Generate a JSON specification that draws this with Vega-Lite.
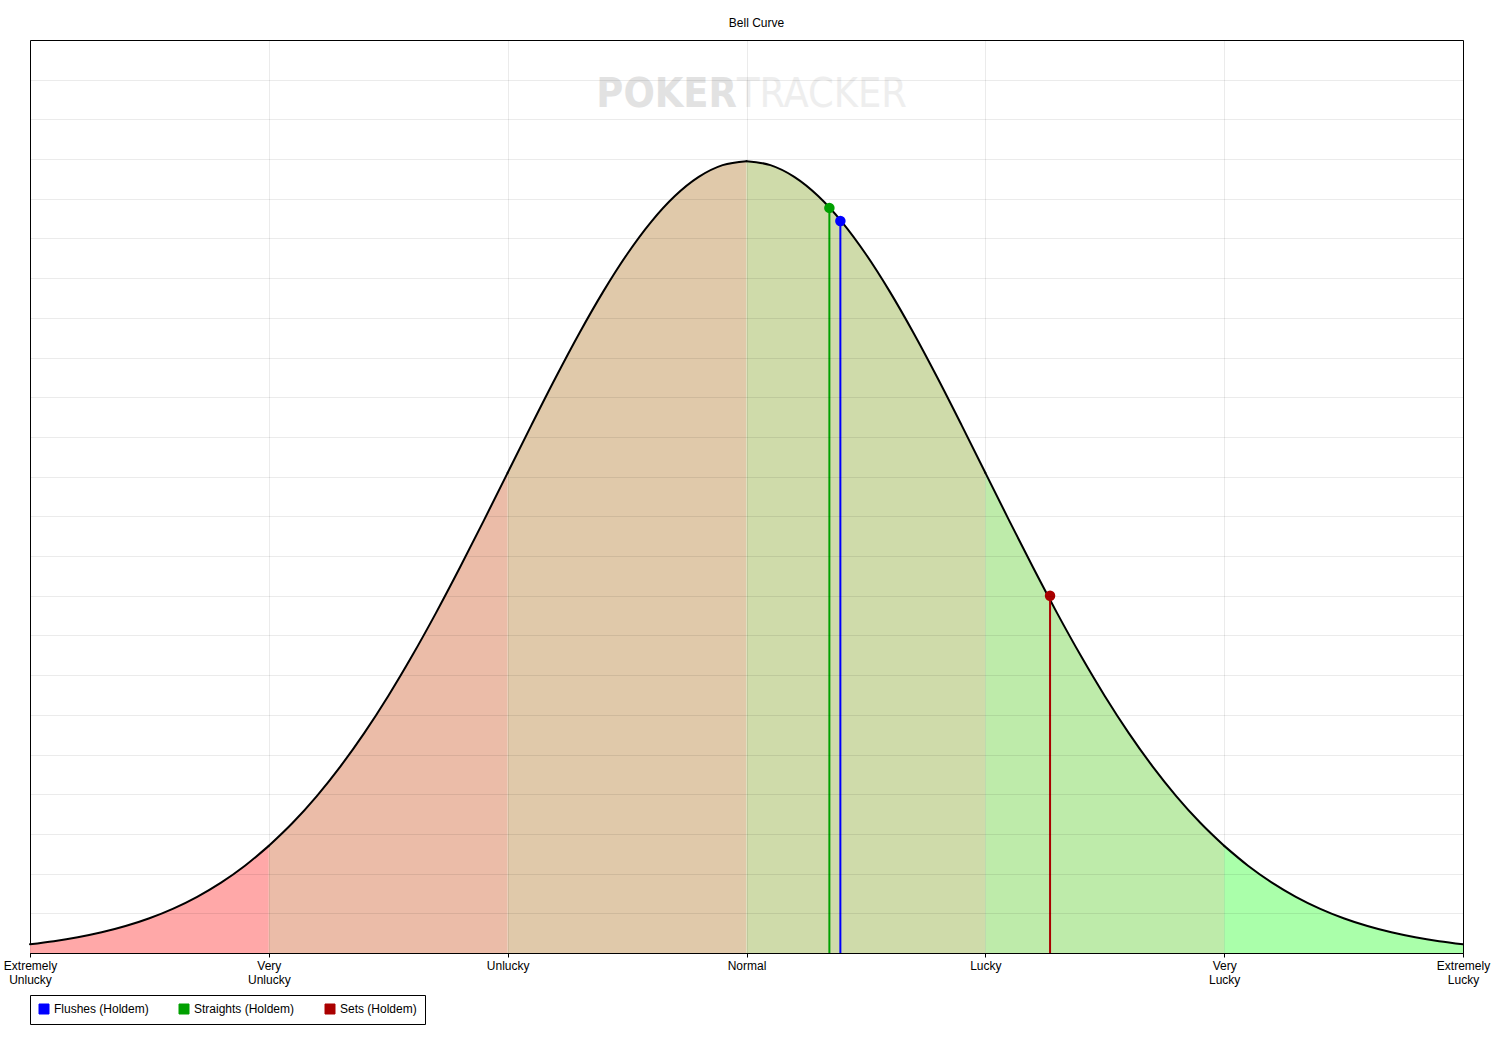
{
  "$schema": "https://vega.github.io/schema/vega-lite/v6.json",
  "width": 1433,
  "height": 913,
  "autosize": {"type": "none"},
  "padding": {"left": 30, "top": 40, "right": 41, "bottom": 92},
  "background": "white",
  "title": {"text": "Bell Curve", "fontSize": 12, "fontWeight": "normal", "font": "Liberation Sans", "color": "black", "offset": 10, "dx": 10},
  "config": {
    "font": "Liberation Sans",
    "view": {"stroke": "black", "strokeWidth": 1},
    "axis": {"gridColor": "black", "gridOpacity": 0.08, "gridWidth": 1}
  },
  "datasets": {
    "bands": [
      {"band": "b1", "x": -3.0, "y": 0.00443}, {"band": "b1", "x": -2.9, "y": 0.00595}, {"band": "b1", "x": -2.8, "y": 0.00792}, {"band": "b1", "x": -2.7, "y": 0.01042}, {"band": "b1", "x": -2.6, "y": 0.01358}, {"band": "b1", "x": -2.5, "y": 0.01753}, {"band": "b1", "x": -2.4, "y": 0.02239}, {"band": "b1", "x": -2.3, "y": 0.02833}, {"band": "b1", "x": -2.2, "y": 0.03547}, {"band": "b1", "x": -2.1, "y": 0.04398}, {"band": "b1", "x": -2.0, "y": 0.05399},
      {"band": "b2", "x": -2.0, "y": 0.05399}, {"band": "b2", "x": -1.9, "y": 0.06562}, {"band": "b2", "x": -1.8, "y": 0.07895}, {"band": "b2", "x": -1.7, "y": 0.09405}, {"band": "b2", "x": -1.6, "y": 0.11092}, {"band": "b2", "x": -1.5, "y": 0.12952}, {"band": "b2", "x": -1.4, "y": 0.14973}, {"band": "b2", "x": -1.3, "y": 0.17137}, {"band": "b2", "x": -1.2, "y": 0.19419}, {"band": "b2", "x": -1.1, "y": 0.21785}, {"band": "b2", "x": -1.0, "y": 0.24197},
      {"band": "b3", "x": -1.0, "y": 0.24197}, {"band": "b3", "x": -0.9, "y": 0.26609}, {"band": "b3", "x": -0.8, "y": 0.28969}, {"band": "b3", "x": -0.7, "y": 0.31225}, {"band": "b3", "x": -0.6, "y": 0.33322}, {"band": "b3", "x": -0.5, "y": 0.35207}, {"band": "b3", "x": -0.4, "y": 0.36827}, {"band": "b3", "x": -0.3, "y": 0.38139}, {"band": "b3", "x": -0.2, "y": 0.39104}, {"band": "b3", "x": -0.1, "y": 0.39695}, {"band": "b3", "x": 0.0, "y": 0.39894},
      {"band": "b4", "x": 0.0, "y": 0.39894}, {"band": "b4", "x": 0.1, "y": 0.39695}, {"band": "b4", "x": 0.2, "y": 0.39104}, {"band": "b4", "x": 0.3, "y": 0.38139}, {"band": "b4", "x": 0.4, "y": 0.36827}, {"band": "b4", "x": 0.5, "y": 0.35207}, {"band": "b4", "x": 0.6, "y": 0.33322}, {"band": "b4", "x": 0.7, "y": 0.31225}, {"band": "b4", "x": 0.8, "y": 0.28969}, {"band": "b4", "x": 0.9, "y": 0.26609}, {"band": "b4", "x": 1.0, "y": 0.24197},
      {"band": "b5", "x": 1.0, "y": 0.24197}, {"band": "b5", "x": 1.1, "y": 0.21785}, {"band": "b5", "x": 1.2, "y": 0.19419}, {"band": "b5", "x": 1.3, "y": 0.17137}, {"band": "b5", "x": 1.4, "y": 0.14973}, {"band": "b5", "x": 1.5, "y": 0.12952}, {"band": "b5", "x": 1.6, "y": 0.11092}, {"band": "b5", "x": 1.7, "y": 0.09405}, {"band": "b5", "x": 1.8, "y": 0.07895}, {"band": "b5", "x": 1.9, "y": 0.06562}, {"band": "b5", "x": 2.0, "y": 0.05399},
      {"band": "b6", "x": 2.0, "y": 0.05399}, {"band": "b6", "x": 2.1, "y": 0.04398}, {"band": "b6", "x": 2.2, "y": 0.03547}, {"band": "b6", "x": 2.3, "y": 0.02833}, {"band": "b6", "x": 2.4, "y": 0.02239}, {"band": "b6", "x": 2.5, "y": 0.01753}, {"band": "b6", "x": 2.6, "y": 0.01358}, {"band": "b6", "x": 2.7, "y": 0.01042}, {"band": "b6", "x": 2.8, "y": 0.00792}, {"band": "b6", "x": 2.9, "y": 0.00595}, {"band": "b6", "x": 3.0, "y": 0.00443}
    ],
    "stats": [
      {"series": "Flushes (Holdem)", "x": 0.393, "y": 0.3688},
      {"series": "Straights (Holdem)", "x": 0.347, "y": 0.3754},
      {"series": "Sets (Holdem)", "x": 1.271, "y": 0.1800}
    ],
    "poker": [{"label": "POKER", "x": -0.040, "y": 0.4263}],
    "tracker": [{"label": "TRACKER", "x": -0.040, "y": 0.4263}]
  },
  "encoding": {
    "x": {"field": "x", "type": "quantitative", "scale": {"domain": [-3, 3], "nice": false, "zero": false},
      "axis": {"values": [-3, -2, -1, 0, 1, 2, 3], "tickCount": 100, "title": null, "grid": true, "zindex": 1, "domainColor": "black", "tickColor": "black", "tickSize": 4, "labelColor": "black", "labelFontSize": 12, "labelFont": "Liberation Sans", "labelPadding": 3, "labelBaseline": "top", "labelLineHeight": 14, "labelFlush": false, "labelOverlap": false,
        "labelExpr": "datum.value == -3 ? ['Extremely', 'Unlucky'] : datum.value == -2 ? ['Very', 'Unlucky'] : datum.value == -1 ? 'Unlucky' : datum.value == 0 ? 'Normal' : datum.value == 1 ? 'Lucky' : datum.value == 2 ? ['Very', 'Lucky'] : ['Extremely', 'Lucky']"}},
    "y": {"field": "y", "type": "quantitative", "scale": {"domain": [0, 0.46], "nice": false},
      "axis": {"values": [0, 0.02, 0.04, 0.06, 0.08, 0.1, 0.12, 0.14, 0.16, 0.18, 0.2, 0.22, 0.24, 0.26, 0.28, 0.3, 0.32, 0.34, 0.36, 0.38, 0.4, 0.42, 0.44, 0.46], "tickCount": 100, "title": null, "labels": false, "labelOverlap": false, "ticks": false, "domain": false, "grid": true, "zindex": 1}}
  },
  "layer": [
    {
      "data": {"name": "bands"},
      "mark": {"type": "area", "interpolate": "monotone"},
      "encoding": {
        "y": {"field": "y", "type": "quantitative", "stack": null},
        "fill": {"field": "band", "type": "nominal", "legend": null,
          "scale": {"domain": ["b1", "b2", "b3", "b4", "b5", "b6"], "range": ["#FFA8A8", "#EBBCA8", "#E0C9AA", "#CFDBAA", "#BEEBAA", "#AAFFAA"]}}
      }
    },
    {
      "data": {"name": "poker"},
      "mark": {"type": "text", "fontSize": 41, "baseline": "alphabetic", "align": "right", "font": "DejaVu Sans Condensed, Liberation Sans", "fontWeight": "bold", "color": "#E2E2E2"},
      "encoding": {"text": {"field": "label"}}
    },
    {
      "data": {"name": "tracker"},
      "mark": {"type": "text", "fontSize": 41, "baseline": "alphabetic", "align": "left", "font": "DejaVu Sans Condensed, Liberation Sans", "fontWeight": "normal", "color": "#EEEEEE"},
      "encoding": {"text": {"field": "label"}}
    },
    {
      "data": {"name": "bands"},
      "mark": {"type": "line", "interpolate": "monotone", "color": "black", "strokeWidth": 2, "strokeCap": "round"},
      "encoding": {"detail": {"field": "band"}}
    },
    {
      "data": {"name": "stats"},
      "mark": {"type": "rule", "strokeWidth": 2},
      "encoding": {
        "y2": {"datum": 0},
        "color": {"field": "series", "type": "nominal",
          "scale": {"domain": ["Flushes (Holdem)", "Straights (Holdem)", "Sets (Holdem)"], "range": ["#0000FF", "#00A000", "#AA0000"]},
          "legend": {"title": null, "orient": "none", "legendX": 0, "legendY": 955, "direction": "horizontal", "columns": 3, "columnPadding": 28, "symbolType": "square", "symbolSize": 100, "symbolStrokeColor": "black", "symbolStrokeWidth": 1, "symbolOpacity": 1, "labelFontSize": 12, "labelFont": "Liberation Sans", "labelColor": "black", "labelOffset": 4, "padding": 8, "strokeColor": "black", "fillColor": "white",
            "encode": {"symbols": {"update": {"stroke": {"value": "black"}, "strokeWidth": {"value": 1}}}}}}
      }
    },
    {
      "data": {"name": "stats"},
      "mark": {"type": "point", "filled": true, "opacity": 1, "size": 110, "shape": "circle"},
      "encoding": {"color": {"field": "series", "type": "nominal"}}
    }
  ]
}
